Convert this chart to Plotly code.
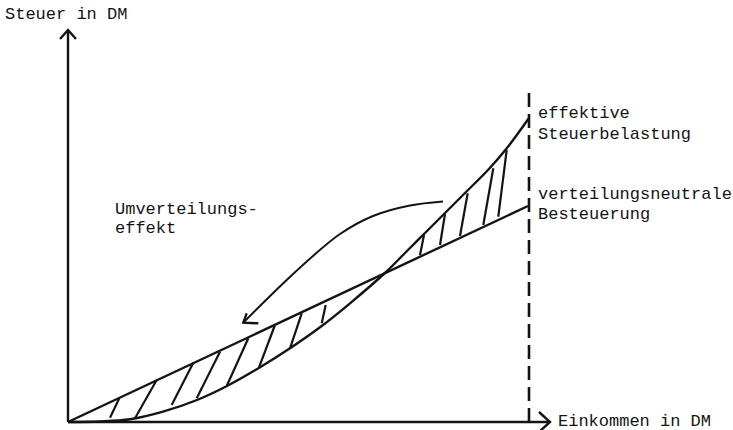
import plotly.graph_objects as go

# --- data (income units on x, tax units on y; origin at the axes' corner) ---
eff_x = [0, 32, 62, 95, 129, 159, 192, 222, 252, 282, 318, 337, 357, 377, 399, 420, 439, 461]
eff_y = [0, 0.5, 2.7, 10.3, 22, 36, 54.7, 73.7, 94.7, 118.7, 150, 169, 189, 209, 231, 252, 274, 304]

neutral_x = [0, 460]
neutral_y = [0, 216]

limit_x = 461
limit_top = 330

# hatch strokes between the two curves
hatch_x0 = [42, 67, 103.7, 128.7, 158.7, 191, 222, 253.7, 352, 372, 392, 415.3, 430.3]
hatch_y0 = [4.3, 3.7, 17, 23.7, 36, 54.7, 73.7, 98.7, 167, 177, 186, 197, 205.3]
hatch_x1 = [51.3, 88.7, 125.3, 152, 180.3, 207, 233.7, 257.7, 356, 377, 399.7, 425.3, 438.7]
hatch_y1 = [23.7, 42, 59.3, 70.3, 83.7, 97, 108.7, 117, 187, 208, 228.7, 253.7, 272]

# curved "Umverteilungseffekt" arrow
arrow_x = [375, 342, 305, 272, 245, 218.7, 196, 175.3]
arrow_y = [220.5, 216.5, 206, 188, 166, 142, 120, 99.3]
arrow_head_x = [178.7, 175.3, 190.3]
arrow_head_y = [108.7, 99.3, 98.7]

# axes
yaxis_top = 392
xaxis_end = 482

INK = "#141414"
FONT = dict(family="Liberation Mono, Courier New, monospace", size=17, color=INK)

fig = go.Figure()

def line(x, y, width=2.2, dash=None, shape="linear"):
    fig.add_trace(go.Scatter(
        x=x, y=y, mode="lines", hoverinfo="skip", showlegend=False,
        line=dict(color=INK, width=width, dash=dash, shape=shape),
    ))

# axes with open arrowheads
line([0, 0], [0, yaxis_top], width=2.4)
line([-8, 0, 8], [yaxis_top - 9, yaxis_top, yaxis_top - 9], width=2.4)
line([0, xaxis_end], [0, 0], width=2.6)
line([xaxis_end - 11, xaxis_end, xaxis_end - 11], [10, 0, -10], width=2.4)

# dashed limit line
line([limit_x, limit_x], [0, limit_top], width=2.6, dash="14px,7px")

# curves
line(neutral_x, neutral_y, width=2.4)
line(eff_x, eff_y, width=2.4, shape="spline")

# hatching
hx, hy = [], []
for a, b, c, d in zip(hatch_x0, hatch_y0, hatch_x1, hatch_y1):
    hx += [a, c, None]
    hy += [b, d, None]
line(hx, hy, width=2.2)

# curved arrow
line(arrow_x, arrow_y, width=2.0, shape="spline")
line(arrow_head_x, arrow_head_y, width=2.4)

labels = [
    ("Steuer in DM", -65, 407.6),
    ("Einkommen in DM", 488, 0.5),
    ("effektive", 468, 308.3),
    ("Steuerbelastung", 468, 287.3),
    ("verteilungsneutrale", 468, 227.3),
    ("Besteuerung", 468, 207.3),
    ("Umverteilungs-", 45, 212.3),
    ("effekt", 45, 193.3),
]
for text, x, y in labels:
    fig.add_annotation(x=x, y=y, text=text, showarrow=False,
                       xanchor="left", yanchor="middle", font=FONT)

fig.update_layout(
    width=733, height=430,
    margin=dict(l=0, r=0, t=0, b=0),
    paper_bgcolor="white", plot_bgcolor="white",
    xaxis=dict(range=[-68, 665], visible=False, fixedrange=True),
    yaxis=dict(range=[-8, 422], visible=False, fixedrange=True),
)

fig.write_html("out.html", post_script="document.body.style.margin='0';",
               config={"displayModeBar": False})
